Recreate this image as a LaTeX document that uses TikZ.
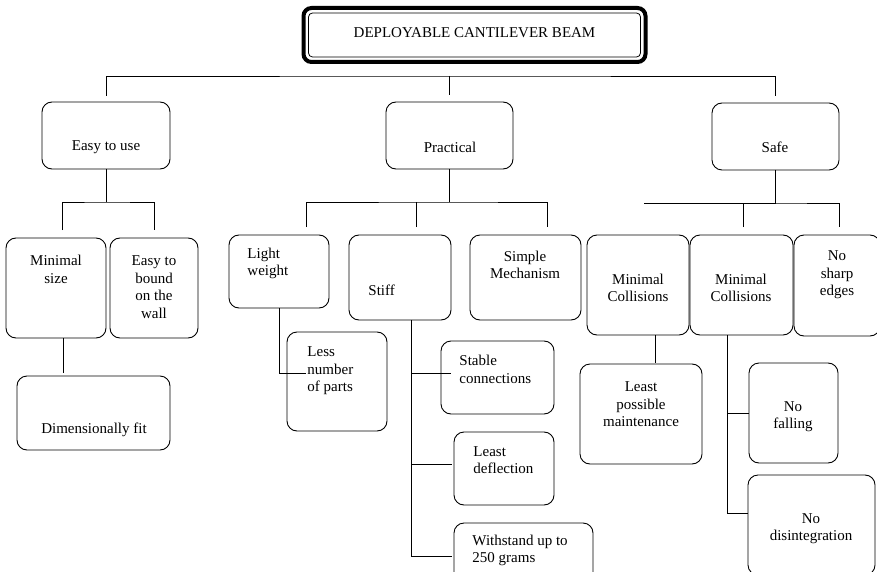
\documentclass[tikz,border=0pt]{standalone}
\usepackage{fontspec}
\setmainfont{Liberation Serif}
\usepackage{amsmath}

\begin{document}
\begin{tikzpicture}[x=1pt,y=-1pt,line width=0.9pt,
  box/.style={draw, rounded corners=10pt, inner sep=0pt, outer sep=0pt, anchor=north west},
  txt/.style={inner sep=0pt, font=\fontsize{15pt}{17.5pt}\selectfont, align=center},
  ltxt/.style={txt, align=left, anchor=west}]
\useasboundingbox (0,0) rectangle (877,572);
\clip (0,0) rectangle (877,572);
% title
\node[draw, rounded corners=4pt, line width=0.8pt, minimum width=332pt, minimum height=44pt, inner sep=0pt, outer sep=0pt] (title) at (474.5,35) {};
\draw[line width=4pt, rounded corners=8pt] ([shift={(-5pt,5pt)}]title.north west) rectangle ([shift={(5pt,-5pt)}]title.south east);
\node[txt] (t-title) at (474.5,33) {DEPLOYABLE CANTILEVER BEAM};
% first level
\node[box, minimum width=128pt, minimum height=67pt] (easy) at (42,102) {};
\node[box, minimum width=127pt, minimum height=67pt] (practical) at (386,102) {};
\node[box, minimum width=127pt, minimum height=67pt] (safe) at (712,103) {};
\node[txt] (t-easy) at (106,147) {Easy to use};
\node[txt] (t-practical) at (450,147) {Practical};
\node[txt] (t-safe) at (775,147) {Safe};
% easy to use
\node[box, minimum width=100pt, minimum height=100pt] (minsize) at (6,238) {};
\node[box, minimum width=88pt, minimum height=100pt] (bound) at (110,238) {};
\node[box, minimum width=153pt, minimum height=74pt] (dimfit) at (17,376) {};
\node[txt] (t-minsize) at (56,269.5) {Minimal\\size};
\node[txt] (t-bound) at (154,287) {Easy to\\bound\\on the\\wall};
\node[txt] (t-dimfit) at (94,430) {Dimensionally fit};
% practical
\node[box, minimum width=100pt, minimum height=73pt] (light) at (229,235) {};
\node[box, minimum width=102pt, minimum height=85pt] (stiff) at (349,235) {};
\node[box, minimum width=111pt, minimum height=85pt] (simple) at (470,235) {};
\node[box, minimum width=100pt, minimum height=99pt] (less) at (287,332) {};
\node[box, minimum width=113pt, minimum height=73pt] (stable) at (441,341) {};
\node[box, minimum width=100pt, minimum height=73pt] (deflect) at (454,432) {};
\node[box, minimum width=139pt, minimum height=75pt] (withstand) at (454,523) {};
\node[ltxt] (t-light) at (247,263.5) {Light\\weight};
\node[ltxt] (t-stiff) at (368,290) {Stiff};
\node[txt] (t-simple) at (525,265) {Simple\\Mechanism};
\node[ltxt] (t-less) at (307,371) {Less\\number\\of parts};
\node[ltxt] (t-stable) at (459,369.5) {Stable\\connections};
\node[ltxt] (t-deflect) at (473,460) {Least\\deflection};
\node[ltxt] (t-withstand) at (472,550.5) {Withstand up to\\250 grams};
% safe
\node[box, minimum width=102pt, minimum height=100pt] (coll1) at (587,235) {};
\node[box, minimum width=103pt, minimum height=100pt] (coll2) at (690,235) {};
\node[box, minimum width=86pt, minimum height=101pt] (sharp) at (794,235) {};
\node[box, minimum width=122pt, minimum height=100pt] (maint) at (580,364) {};
\node[box, minimum width=89pt, minimum height=100pt] (falling) at (749,363) {};
\node[box, minimum width=127pt, minimum height=100pt] (disint) at (748,475) {};
\node[txt] (t-coll1) at (638,288) {Minimal\\Collisions};
\node[txt] (t-coll2) at (741,288) {Minimal\\Collisions};
\node[txt] (t-sharp) at (837,275) {No\\sharp\\edges};
\node[txt] (t-maint) at (641,404.5) {Least\\possible\\maintenance};
\node[txt] (t-falling) at (793,416.5) {No\\falling};
\node[txt] (t-disint) at (811,528.5) {No\\disintegration};
% connectors
\coordinate (top) at (449.5,76);
\draw ([yshift=6pt]easy.north) |- (top) -| ([yshift=7pt]safe.north);
\draw (top) -- ([yshift=7pt]practical.north);
\draw (easy.south) -- ++(0,33) coordinate (eb);
\draw ([xshift=6pt,yshift=8pt]minsize.north) |- (eb) -| ([yshift=8pt]bound.north);
\draw ([xshift=7pt]minsize.south) -- ++(0,35);
\draw (practical.south) -- ++(0,33) coordinate (pb);
\draw ([xshift=27pt,yshift=8pt]light.north) |- (pb) -| ([xshift=22pt,yshift=8pt]simple.north);
\draw ([xshift=16pt,yshift=8pt]stiff.north) -- ++(0,-25);
\draw (light.south) |- ([xshift=19pt,yshift=8pt]less.west);
\draw ([xshift=11pt]stiff.south) |- ([xshift=10pt,yshift=4pt]stable.west);
\draw ([xshift=11pt]stiff.south) |- ([xshift=-2pt,yshift=4pt]deflect.west);
\draw ([xshift=11pt]stiff.south) |- ([xshift=-2pt,yshift=4pt]withstand.west);
\draw (safe.south) -- ++(0,33) coordinate (sb);
\draw ([xshift=2pt,yshift=8pt]coll2.north) |- (sb) -| ([xshift=2pt,yshift=8pt]sharp.north);
\draw (sb) -- ++(-132,0);
\draw ([xshift=17pt]coll1.south) -- ++(0,28);
\draw ([xshift=-14pt]coll2.south) |- (falling.west);
\draw ([xshift=-14pt]coll2.south) |- ([yshift=12pt]disint.west);
\end{tikzpicture}
\end{document}
